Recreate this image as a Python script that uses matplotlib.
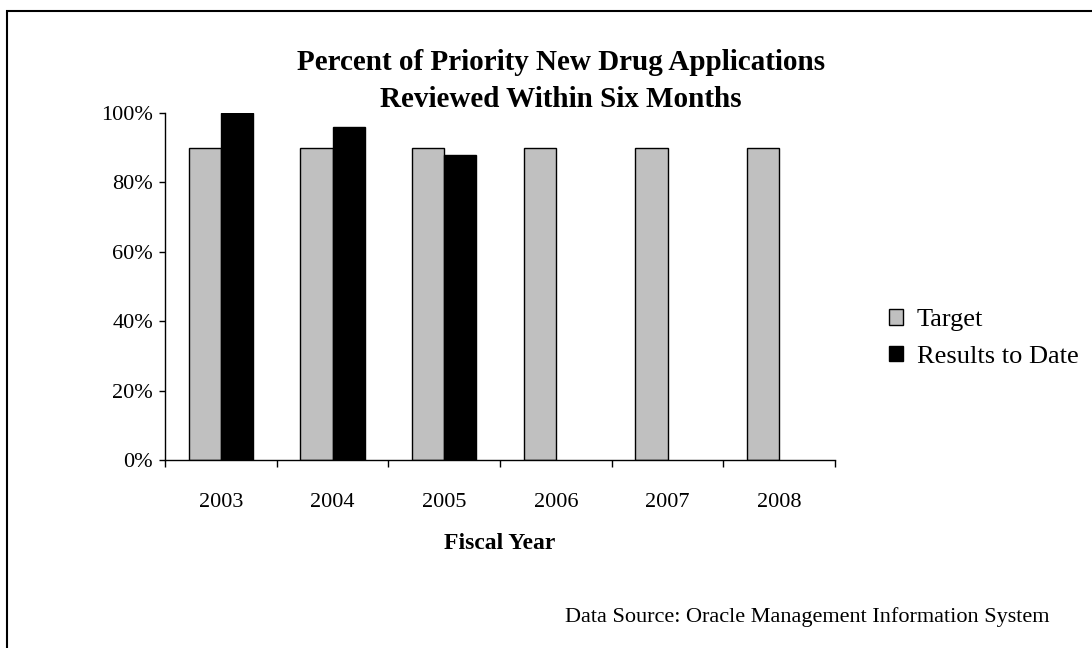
import matplotlib
matplotlib.use('Agg')
import numpy as np
import matplotlib.pyplot as plt
from matplotlib.patches import Rectangle
from matplotlib.ticker import FuncFormatter, FixedLocator

plt.rcParams['font.family'] = ['Liberation Serif', 'DejaVu Serif']

# fiscal years and percentages
years = ['2003', '2004', '2005', '2006', '2007', '2008']
target = [90, 90, 90, 90, 90, 90]
results = [100, 96, 88]

fig = plt.figure(figsize=(10.92, 6.48), dpi=100)
ax = fig.add_axes([0.1511, 0.2901, 0.6136, 0.5355])

x = np.arange(len(years))
w = 0.287
ax.bar(x - w / 2, target, w, color='#c0c0c0', edgecolor='black', linewidth=1.0, label='Target')
ax.bar(x[:len(results)] + w / 2, results, w, color='black', edgecolor='black', linewidth=1.0,
       label='Results to Date')

ax.set_xlim(-0.5, len(years) - 0.5)
ax.set_ylim(0, 100)
ax.set_yticks(np.arange(0, 101, 20))
ax.yaxis.set_major_formatter(FuncFormatter(lambda v, p: '%d%%' % v))

# boundary ticks between categories, labels at centres
ax.xaxis.set_major_locator(FixedLocator(np.arange(-0.5, len(years), 1.0)))
ax.xaxis.set_major_formatter(FuncFormatter(lambda v, p: ''))
ax.xaxis.set_minor_locator(FixedLocator(x))
ax.set_xticklabels(years, minor=True)
ax.tick_params(axis='x', which='minor', length=0, pad=24, labelsize=16)
ax.tick_params(axis='x', which='major', length=5, direction='out', width=1)
ax.tick_params(axis='y', length=4.5, direction='out', width=1, labelsize=16, pad=4)

for s in ['top', 'right']:
    ax.spines[s].set_visible(False)
for s in ['left', 'bottom']:
    ax.spines[s].set_linewidth(1)

fig.text(0.458, 0.162, 'Fiscal Year', ha='center', va='center', fontsize=17, fontweight='bold')

fig.text(0.514, 0.875, 'Percent of Priority New Drug Applications\nReviewed Within Six Months',
         ha='center', va='center', fontsize=21, fontweight='bold', linespacing=1.45)

fig.legend(*ax.get_legend_handles_labels(), loc='center left', bbox_to_anchor=(0.814, 0.478),
           frameon=False, fontsize=19, handlelength=0.55, handleheight=0.55,
           handletextpad=0.5, labelspacing=0.55, borderpad=0, borderaxespad=0)

fig.text(0.9615, 0.048, 'Data Source: Oracle Management Information System',
         ha='right', va='center', fontsize=16)

# frame around the whole chart
fig.patches.append(Rectangle((0.006, -0.01), 1.1, 1.0 - 0.006 - 0.0015, transform=fig.transFigure,
                             fill=False, edgecolor='black', linewidth=1.5))

fig.savefig('out.png', dpi=100)
